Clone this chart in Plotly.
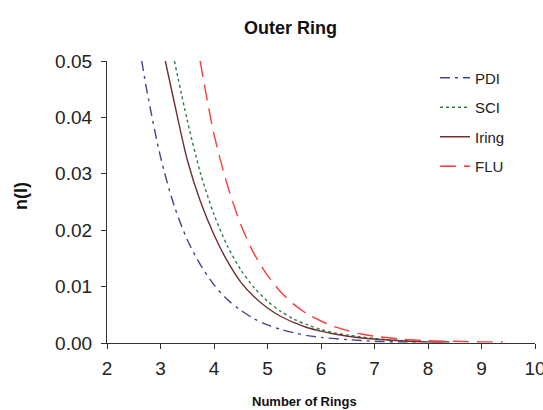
import plotly.graph_objects as go

# Data
pdi_x = [2.65, 2.75, 3.0, 3.25, 3.5, 3.75, 4.0, 4.25, 4.5, 4.75, 5.0, 5.25, 5.5, 5.75, 6.0, 6.5, 7.0, 7.5, 7.8]
pdi_y = [0.050, 0.0445, 0.033, 0.0245, 0.0183, 0.0138, 0.0103, 0.0077, 0.0058, 0.0043, 0.0032, 0.0024,
         0.0018, 0.0013, 0.0010, 0.0006, 0.0003, 0.0002, 0.0002]

sci_x = [3.26, 3.5, 3.75, 4.0, 4.25, 4.5, 4.75, 5.0, 5.25, 5.5, 5.75, 6.0, 6.25, 6.5, 7.0, 7.5, 7.8]
sci_y = [0.050, 0.0395, 0.030, 0.0228, 0.0172, 0.0130, 0.0098, 0.0074, 0.0056, 0.0042, 0.0032, 0.0024,
         0.0018, 0.0014, 0.0008, 0.0004, 0.0003]

iring_x = [3.09, 3.25, 3.5, 3.75, 4.0, 4.25, 4.5, 4.75, 5.0, 5.25, 5.5, 5.75, 6.0, 6.25, 6.5, 7.0, 7.5, 8.0, 8.4]
iring_y = [0.050, 0.043, 0.0325, 0.0250, 0.0192, 0.0145, 0.0108, 0.0082, 0.0062, 0.0047, 0.0036, 0.0027,
           0.0021, 0.0016, 0.0012, 0.0007, 0.0004, 0.0002, 0.0002]

flu_x = [3.74, 4.0, 4.25, 4.5, 4.75, 5.0, 5.25, 5.5, 5.75, 6.0, 6.25, 6.5, 6.75, 7.0, 7.5, 8.0, 8.5, 9.0, 9.4]
flu_y = [0.050, 0.037, 0.028, 0.021, 0.0158, 0.0120, 0.0090, 0.0068, 0.0051, 0.0039, 0.0029, 0.0022,
         0.0016, 0.0012, 0.0007, 0.0004, 0.0003, 0.0002, 0.0002]

x_ticks = [2, 3, 4, 5, 6, 7, 8, 9, 10]
y_ticks = [0.00, 0.01, 0.02, 0.03, 0.04, 0.05]

series = [
    ("PDI", pdi_x, pdi_y, "#44448f", "10px,5px,3px,5px"),
    ("SCI", sci_x, sci_y, "#2e7d45", "3px,3px"),
    ("Iring", iring_x, iring_y, "#6e3030", "solid"),
    ("FLU", flu_x, flu_y, "#ff3b3b", "16px,8px"),
]

fig = go.Figure()
for i, (name, xs, ys, color, dash) in enumerate(series):
    fig.add_trace(go.Scatter(
        x=xs, y=ys, mode="lines", name=name, legendgroup=str(i),
        line=dict(color=color, width=1.4, dash=dash, shape="spline", smoothing=0.8),
    ))

font_family = "Liberation Sans, Arial, sans-serif"
L, R, T, B = 107, 8, 61, 67
W, H = 543, 410
pw, ph = W - L - R, H - T - B


def px_x(p):
    return (p - L) / pw


def px_y(p):
    return (H - B - p) / ph


fig.update_layout(
    width=W, height=H,
    margin=dict(l=L, r=R, t=T, b=B, autoexpand=False),
    paper_bgcolor="white", plot_bgcolor="white",
    font=dict(family=font_family, size=19, color="#222222"),
    showlegend=True,
    legend=dict(
        x=px_x(435), y=0.998, xanchor="left", yanchor="top",
        font=dict(size=15, color="#222222"),
        bgcolor="rgba(0,0,0,0)", tracegroupgap=7,
    ),
    xaxis=dict(
        range=[2, 10], tickvals=x_ticks, ticktext=[str(v) for v in x_ticks],
        showline=True, linecolor="#333333", linewidth=1.3,
        ticks="outside", ticklen=5, tickcolor="#333333",
        showgrid=False, zeroline=False, ticklabeloverflow="allow",
        automargin=False, ticklabelstandoff=3,
        tickfont=dict(size=19, color="#222222"),
    ),
    yaxis=dict(
        range=[0, 0.05], tickvals=y_ticks, tickformat=".2f",
        showline=True, linecolor="#333333", linewidth=1.3,
        ticks="outside", ticklen=5, tickcolor="#333333",
        showgrid=False, zeroline=False, ticklabelstandoff=5,
        automargin=False,
        tickfont=dict(size=19, color="#222222"),
    ),
    annotations=[
        dict(text="<b>Outer Ring</b>", xref="paper", yref="paper",
             x=px_x(290), y=px_y(28), xanchor="center", yanchor="middle",
             showarrow=False, font=dict(size=18, color="#111111")),
        dict(text="<b>Number of Rings</b>", xref="paper", yref="paper",
             x=px_x(304), y=px_y(401), xanchor="center", yanchor="middle",
             showarrow=False, font=dict(size=13, color="#111111")),
        dict(text="<b>n(l)</b>", xref="paper", yref="paper",
             x=px_x(21), y=px_y(196), xanchor="center", yanchor="middle",
             textangle=-90, showarrow=False, font=dict(size=18, color="#111111")),
    ],
)

fig.write_html("out.html")
